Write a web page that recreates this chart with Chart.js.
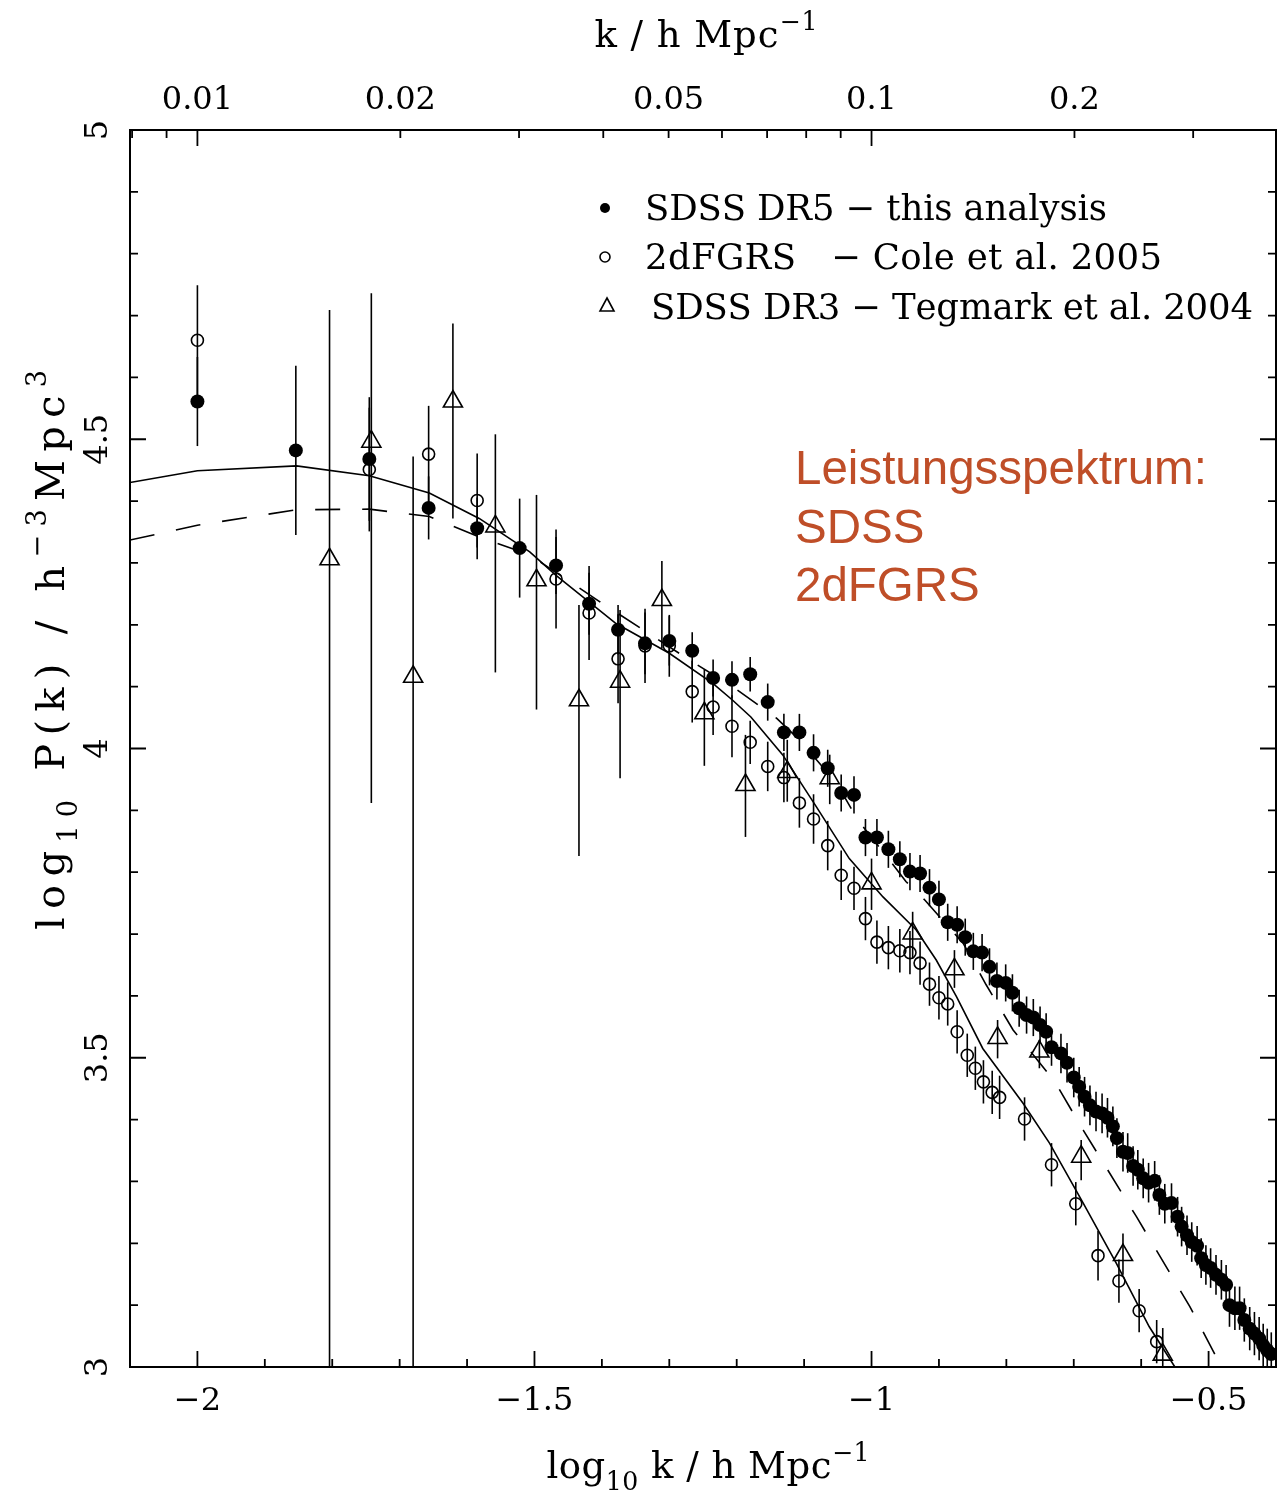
<!DOCTYPE html>
<html>
<head>
<meta charset="utf-8">
<script src="https://cdn.jsdelivr.net/npm/chart.js@4.4.1/dist/chart.umd.min.js"></script>
<style>
  html, body { margin: 0; padding: 0; background: #fff; }
  #wrap { width: 1277px; height: 1491px; }
</style>
</head>
<body>
<div id="wrap"><canvas id="pk" width="1277" height="1491"></canvas></div>
<script>
// SDSS DR5 (gefuellte Kreise): log10 k, log10 P, Fehler
const dr5K = [-2.000, -1.854, -1.745, -1.657, -1.585, -1.522, -1.468, -1.419, -1.376, -1.336,
  -1.300, -1.266, -1.235, -1.207, -1.180, -1.154, -1.130, -1.107, -1.086, -1.065,
  -1.045, -1.026, -1.009, -0.992, -0.975, -0.958, -0.943, -0.928, -0.914, -0.900,
  -0.887, -0.873, -0.861, -0.849, -0.836, -0.825, -0.814, -0.801, -0.791, -0.781,
  -0.770, -0.760, -0.750, -0.741, -0.733, -0.719, -0.710, -0.700, -0.692, -0.684,
  -0.676, -0.667, -0.658, -0.650, -0.642, -0.636, -0.627, -0.620, -0.612, -0.605,
  -0.597, -0.589, -0.580, -0.573, -0.565, -0.555, -0.546, -0.540, -0.532, -0.525,
  -0.517, -0.511, -0.504, -0.497, -0.489, -0.481, -0.474, -0.469, -0.461, -0.454,
  -0.447, -0.439, -0.432, -0.425, -0.419, -0.413, -0.407];
const dr5P = [4.561, 4.482, 4.468, 4.389, 4.356, 4.324, 4.296, 4.234, 4.192, 4.170,
  4.174, 4.158, 4.114, 4.111, 4.120, 4.075, 4.026, 4.026, 3.993, 3.968,
  3.928, 3.925, 3.856, 3.856, 3.837, 3.821, 3.801, 3.798, 3.775, 3.756,
  3.719, 3.715, 3.695, 3.672, 3.670, 3.647, 3.624, 3.621, 3.605, 3.580,
  3.569, 3.565, 3.553, 3.542, 3.517, 3.507, 3.492, 3.468, 3.453, 3.437,
  3.423, 3.413, 3.410, 3.403, 3.389, 3.370, 3.348, 3.346, 3.325, 3.319,
  3.305, 3.298, 3.301, 3.278, 3.264, 3.265, 3.243, 3.227, 3.213, 3.202,
  3.196, 3.176, 3.165, 3.160, 3.149, 3.141, 3.133, 3.100, 3.095, 3.095,
  3.076, 3.062, 3.054, 3.046, 3.035, 3.027, 3.021];
const dr5Err = [0.072, 0.137, 0.100, 0.051, 0.050, 0.080, 0.046, 0.050, 0.040, 0.050,
  0.040, 0.030, 0.030, 0.030, 0.028, 0.030, 0.030, 0.030, 0.030, 0.030,
  0.030, 0.030, 0.030, 0.030, 0.030, 0.029, 0.030, 0.030, 0.030, 0.030,
  0.030, 0.030, 0.030, 0.030, 0.030, 0.030, 0.030, 0.030, 0.030, 0.030,
  0.030, 0.030, 0.030, 0.030, 0.030, 0.032, 0.032, 0.032, 0.032, 0.032,
  0.032, 0.032, 0.032, 0.032, 0.032, 0.032, 0.032, 0.032, 0.032, 0.032,
  0.032, 0.032, 0.032, 0.032, 0.032, 0.032, 0.032, 0.032, 0.032, 0.032,
  0.032, 0.032, 0.032, 0.032, 0.032, 0.032, 0.032, 0.035, 0.035, 0.035,
  0.035, 0.035, 0.035, 0.035, 0.035, 0.035, 0.035];

// 2dFGRS (offene Kreise)
const tdfK = [-2.000, -1.745, -1.657, -1.585, -1.468, -1.419, -1.376, -1.336, -1.300, -1.266,
  -1.235, -1.207, -1.180, -1.154, -1.130, -1.107, -1.086, -1.065, -1.045, -1.026,
  -1.009, -0.992, -0.975, -0.958, -0.943, -0.928, -0.914, -0.900, -0.887, -0.873,
  -0.858, -0.846, -0.834, -0.821, -0.810, -0.773, -0.733, -0.697, -0.664, -0.633,
  -0.603, -0.577];
const tdfP = [4.660, 4.451, 4.476, 4.401, 4.274, 4.219, 4.145, 4.166, 4.166, 4.092,
  4.067, 4.036, 4.010, 3.971, 3.953, 3.912, 3.886, 3.843, 3.795, 3.774,
  3.725, 3.687, 3.678, 3.673, 3.670, 3.653, 3.619, 3.597, 3.587, 3.542,
  3.504, 3.483, 3.461, 3.444, 3.436, 3.401, 3.327, 3.264, 3.180, 3.139,
  3.091, 3.041];
const tdfErr = [0.089, 0.100, 0.078, 0.076, 0.080, 0.076, 0.072, 0.060, 0.050, 0.050,
  0.045, 0.050, 0.035, 0.040, 0.040, 0.040, 0.040, 0.040, 0.040, 0.035,
  0.035, 0.035, 0.035, 0.035, 0.035, 0.035, 0.035, 0.035, 0.035, 0.035,
  0.035, 0.035, 0.035, 0.035, 0.035, 0.035, 0.035, 0.035, 0.040, 0.035,
  0.035, 0.035];

// SDSS DR3 (Dreiecke), untere und obere Fehlergrenze
const dr3K = [-1.804, -1.742, -1.680, -1.621, -1.558, -1.497, -1.434, -1.373, -1.311, -1.248,
  -1.187, -1.125, -1.062, -1.000, -0.939, -0.877, -0.813, -0.751, -0.689, -0.627, -0.568];
const dr3P = [4.306, 4.496, 4.116, 4.561, 4.359, 4.272, 4.078, 4.108, 4.240, 4.057,
  3.941, 3.962, 3.952, 3.782, 3.701, 3.643, 3.532, 3.510, 3.340, 3.181, 3.020];
const dr3Lo = [2.000, 3.912, 2.000, 4.372, 4.123, 4.063, 3.826, 3.952, 4.162, 3.972,
  3.857, 3.914, 3.910, 3.739, 3.660, 3.613, 3.499, 3.483, 3.302, 3.149, 2.980];
const dr3Hi = [4.709, 4.736, 4.472, 4.687, 4.508, 4.410, 4.232, 4.224, 4.303, 4.128,
  4.022, 4.014, 3.990, 3.822, 3.736, 3.674, 3.561, 3.529, 3.367, 3.216, 3.063];

// Modellkurven
const solidK = [-2.100, -2.000, -1.853, -1.745, -1.656, -1.582, -1.507, -1.468, -1.379, -1.300,
  -1.235, -1.206, -1.179, -1.132, -1.082, -1.033, -0.983, -0.934, -0.904, -0.874,
  -0.835, -0.775, -0.736, -0.686, -0.637, -0.588, -0.550, -0.530];
const solidP = [4.430, 4.449, 4.457, 4.441, 4.413, 4.372, 4.318, 4.280, 4.202, 4.154,
  4.105, 4.078, 4.051, 3.990, 3.906, 3.822, 3.760, 3.707, 3.658, 3.599,
  3.515, 3.426, 3.362, 3.265, 3.168, 3.065, 3.000, 2.960];
const dashK = [-2.100, -2.000, -1.853, -1.745, -1.656, -1.582, -1.507, -1.404, -1.339, -1.270,
  -1.206, -1.141, -1.107, -1.052, -1.020, -0.968, -0.949, -0.921, -0.864, -0.830,
  -0.790, -0.728, -0.686, -0.607, -0.528, -0.489, -0.460];
const dashP = [4.337, 4.361, 4.386, 4.387, 4.375, 4.342, 4.313, 4.238, 4.192, 4.143,
  4.100, 4.049, 4.014, 3.944, 3.884, 3.812, 3.785, 3.755, 3.685, 3.618,
  3.545, 3.461, 3.383, 3.243, 3.098, 3.017, 2.960];

// Achsenbeschriftung
const xTickVals = [-2, -1.5, -1, -0.5];
const xTickLabels = ['\u22122', '\u22121.5', '\u22121', '\u22120.5'];
const yTickVals = [3, 3.5, 4, 4.5, 5];
const yTickLabels = ['3', '3.5', '4', '4.5', '5'];
const kTickVals = [0.01, 0.02, 0.05, 0.1, 0.2];
const kTickLabels = ['0.01', '0.02', '0.05', '0.1', '0.2'];
const kMinor = [0.008, 0.009, 0.03, 0.04, 0.06, 0.07, 0.08, 0.09, 0.3];

const legendRows = ['SDSS DR5 \u2212 this analysis', '2dFGRS   \u2212 Cole et al. 2005', 'SDSS DR3 \u2212 Tegmark et al. 2004'];
const noteLines = ['Leistungsspektrum:', 'SDSS', '2dFGRS'];

const SERIF = '"DejaVu Serif", "Liberation Serif", serif';

function pts(xs, ys) {
  return xs.map((x, i) => ({ x: x, y: ys[i] }));
}

// Text mit Hoch-/Tiefstellung; optional Zeichen fuer Zeichen auf eine Zielbreite verteilt
function drawRich(ctx, segs, x, y, size, align, target) {
  const chars = [];
  segs.forEach(s => {
    const small = s.sub || s.sup;
    const fs = small ? size * 0.68 : size;
    const dy = s.sub ? size * 0.32 : (s.sup ? -size * 0.45 : 0);
    for (const c of s.t) chars.push({ c: c, fs: fs, dy: dy });
  });
  let natural = 0;
  chars.forEach(ch => {
    ctx.font = ch.fs + 'px ' + SERIF;
    ch.w = ctx.measureText(ch.c).width;
    natural += ch.w;
  });
  const gap = target ? (target - natural) / (chars.length - 1) : 0;
  const total = natural + gap * (chars.length - 1);
  let cx = align === 'center' ? x - total / 2 : x;
  ctx.textAlign = 'left';
  ctx.textBaseline = 'alphabetic';
  chars.forEach(ch => {
    ctx.font = ch.fs + 'px ' + SERIF;
    ctx.fillText(ch.c, cx, y + ch.dy);
    cx += ch.w + gap;
  });
}

const errorBars = {
  id: 'errorBars',
  beforeDatasetsDraw(chart) {
    const { ctx, chartArea: a, scales: { x, y } } = chart;
    ctx.save();
    ctx.beginPath();
    ctx.rect(a.left, a.top, a.right - a.left, a.bottom - a.top);
    ctx.clip();
    ctx.strokeStyle = '#000';
    ctx.lineWidth = 1.6;
    chart.data.datasets.forEach(ds => {
      if (!ds.errLo) return;
      ds.data.forEach((p, i) => {
        const px = x.getPixelForValue(p.x);
        ctx.beginPath();
        ctx.moveTo(px, y.getPixelForValue(ds.errLo[i]));
        ctx.lineTo(px, y.getPixelForValue(ds.errHi[i]));
        ctx.stroke();
      });
    });
    ctx.restore();
  }
};

const frame = {
  id: 'frame',
  afterDraw(chart) {
    const { ctx, chartArea: a, scales: { x, y } } = chart;
    ctx.save();
    ctx.strokeStyle = '#000';
    ctx.fillStyle = '#000';
    ctx.lineWidth = 2;
    ctx.strokeRect(a.left, a.top, a.right - a.left, a.bottom - a.top);

    ctx.lineWidth = 1.8;
    // unten: log k alle 0.1
    for (let i = -21; i <= -4; i++) {
      const px = x.getPixelForValue(i / 10);
      const len = i % 5 === 0 ? 16 : 8;
      ctx.beginPath();
      ctx.moveTo(px, a.bottom);
      ctx.lineTo(px, a.bottom - len);
      ctx.stroke();
    }
    // links und rechts
    for (let i = 30; i <= 50; i++) {
      const py = y.getPixelForValue(i / 10);
      const len = i % 5 === 0 ? 16 : 8;
      ctx.beginPath();
      ctx.moveTo(a.left, py);
      ctx.lineTo(a.left + len, py);
      ctx.moveTo(a.right, py);
      ctx.lineTo(a.right - len, py);
      ctx.stroke();
    }
    // oben: k
    kTickVals.concat(kMinor).forEach(k => {
      const lk = Math.log10(k);
      if (lk < x.min || lk > x.max) return;
      const px = x.getPixelForValue(lk);
      const len = (k === 0.01 || k === 0.1) ? 16 : 8;
      ctx.beginPath();
      ctx.moveTo(px, a.top);
      ctx.lineTo(px, a.top + len);
      ctx.stroke();
    });

    // Zahlen
    ctx.font = '32px ' + SERIF;
    ctx.textAlign = 'center';
    ctx.textBaseline = 'alphabetic';
    xTickVals.forEach((v, i) => ctx.fillText(xTickLabels[i], x.getPixelForValue(v), 1410));
    kTickVals.forEach((k, i) => ctx.fillText(kTickLabels[i], x.getPixelForValue(Math.log10(k)), 109));
    yTickVals.forEach((v, i) => {
      ctx.save();
      ctx.translate(107, y.getPixelForValue(v));
      ctx.rotate(-Math.PI / 2);
      ctx.fillText(yTickLabels[i], 0, 0);
      ctx.restore();
    });

    // Achsentitel
    drawRich(ctx, [{ t: 'k / h Mpc' }, { t: '\u22121', sup: true }], 706, 47, 37, 'center', 223);
    drawRich(ctx, [{ t: 'log' }, { t: '10', sub: true }, { t: ' k / h Mpc' }, { t: '\u22121', sup: true }], 708, 1478, 37, 'center', 323);
    ctx.save();
    ctx.translate(64, 650);
    ctx.rotate(-Math.PI / 2);
    drawRich(ctx, [{ t: 'log' }, { t: '10', sub: true }, { t: ' P(k) / h' }, { t: '\u22123', sup: true }, { t: 'Mpc' }, { t: '3', sup: true }], 0, 0, 40, 'center', 560);
    ctx.restore();

    // Legende
    ctx.lineWidth = 1.6;
    ctx.beginPath();
    ctx.arc(605, 208, 5, 0, Math.PI * 2);
    ctx.fill();
    ctx.beginPath();
    ctx.arc(605, 257, 5, 0, Math.PI * 2);
    ctx.stroke();
    ctx.beginPath();
    ctx.moveTo(607, 298);
    ctx.lineTo(614, 311);
    ctx.lineTo(600, 311);
    ctx.closePath();
    ctx.stroke();
    drawRich(ctx, [{ t: legendRows[0] }], 645, 220, 35.5, 'left', 462);
    drawRich(ctx, [{ t: legendRows[1] }], 645, 269, 35.5, 'left', 517);
    drawRich(ctx, [{ t: legendRows[2] }], 651, 319, 35.5, 'left', 602);

    // Hinweistext
    ctx.font = '47.5px "Liberation Sans", Arial, sans-serif';
    ctx.fillStyle = '#BF4E28';
    ctx.textAlign = 'left';
    noteLines.forEach((t, i) => ctx.fillText(t, 795, 484 + i * 58.5));
    ctx.restore();
  }
};

const ctx = document.getElementById('pk').getContext('2d');

new Chart(ctx, {
  type: 'scatter',
  data: {
    datasets: [
      {
        label: 'SDSS DR5',
        data: pts(dr5K, dr5P),
        errLo: dr5P.map((p, i) => p - dr5Err[i]),
        errHi: dr5P.map((p, i) => p + dr5Err[i]),
        pointStyle: 'circle',
        pointRadius: 7,
        backgroundColor: '#000',
        borderColor: '#000',
        borderWidth: 0,
        clip: 0
      },
      {
        label: '2dFGRS',
        data: pts(tdfK, tdfP),
        errLo: tdfP.map((p, i) => p - tdfErr[i]),
        errHi: tdfP.map((p, i) => p + tdfErr[i]),
        pointStyle: 'circle',
        pointRadius: 6,
        backgroundColor: 'rgba(0,0,0,0)',
        borderColor: '#000',
        borderWidth: 1.6,
        clip: 0
      },
      {
        label: 'SDSS DR3',
        data: pts(dr3K, dr3P),
        errLo: dr3Lo,
        errHi: dr3Hi,
        pointStyle: 'triangle',
        pointRadius: 11,
        backgroundColor: 'rgba(0,0,0,0)',
        borderColor: '#000',
        borderWidth: 1.6,
        clip: 0
      },
      {
        type: 'line',
        label: 'Modell',
        data: pts(solidK, solidP),
        borderColor: '#000',
        borderWidth: 1.6,
        pointRadius: 0,
        tension: 0,
        fill: false,
        clip: 0
      },
      {
        type: 'line',
        label: 'Modell (linear)',
        data: pts(dashK, dashP),
        borderColor: '#000',
        borderWidth: 1.6,
        borderDash: [25, 22],
        pointRadius: 0,
        tension: 0,
        fill: false,
        clip: 0
      }
    ]
  },
  options: {
    responsive: false,
    animation: false,
    layout: { autoPadding: false, padding: { top: 130, right: 1, left: 0, bottom: 0 } },
    plugins: { legend: { display: false }, tooltip: { enabled: false } },
    scales: {
      x: {
        type: 'linear',
        min: -2.1,
        max: -0.4,
        ticks: { display: false },
        grid: { display: false },
        border: { display: false },
        afterFit(s) { s.height = 124; }
      },
      y: {
        type: 'linear',
        min: 3,
        max: 5,
        ticks: { display: false },
        grid: { display: false },
        border: { display: false },
        afterFit(s) { s.width = 130; }
      }
    }
  },
  plugins: [errorBars, frame]
});
</script>
</body>
</html>
